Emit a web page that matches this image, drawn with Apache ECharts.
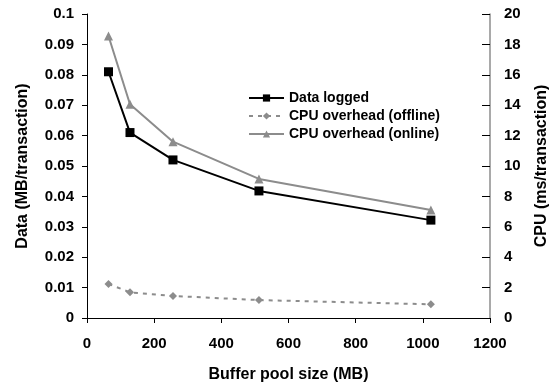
<!DOCTYPE html>
<html>
<head>
<meta charset="utf-8">
<script src="https://cdn.jsdelivr.net/npm/echarts@6/dist/echarts.min.js"></script>
<style>
  html, body { margin: 0; padding: 0; background: #fff; }
  #chart { width: 558px; height: 389px; }
</style>
</head>
<body>
<div id="chart"></div>
<script>
// buffer pool sizes (MB)
const poolSizes = [64, 128, 256, 512, 1024];
// MB/transaction (left axis)
const dataLogged = [0.081, 0.061, 0.052, 0.0418, 0.0322];
// ms/transaction (right axis)
const cpuOffline = [2.24, 1.69, 1.45, 1.18, 0.9];
const cpuOnline = [18.55, 14.06, 11.6, 9.15, 7.1];

const font = 'Liberation Sans';
const gray = '#8c8c8c';
const pairs = arr => poolSizes.map((x, i) => [x, arr[i]]);
const bold = size => ({ fontFamily: font, fontWeight: 'bold', fontSize: size, color: '#000' });

const chart = echarts.init(document.getElementById('chart'));
chart.setOption({
  animation: false,
  backgroundColor: '#fff',
  grid: { left: 87, right: 65, top: 14, bottom: 71 },
  legend: {
    orient: 'vertical',
    left: 243, top: 86,
    itemWidth: 35, itemHeight: 9, itemGap: 4,
    textStyle: bold(14),
    data: ['Data logged', 'CPU overhead (offline)', 'CPU overhead (online)']
  },
  xAxis: {
    type: 'value', min: 0, max: 1200, interval: 200,
    name: 'Buffer pool size (MB)', nameLocation: 'middle', nameGap: 49,
    nameTextStyle: bold(16),
    axisLine: { lineStyle: { color: '#000', width: 1 } },
    axisTick: { show: true, length: 5, lineStyle: { color: '#000' } },
    axisLabel: Object.assign(bold(15), { margin: 18, formatter: v => String(v) }),
    splitLine: { show: false }
  },
  yAxis: [{
    type: 'value', min: 0, max: 0.1, interval: 0.01,
    name: 'Data (MB/transaction)', nameLocation: 'middle', nameGap: 56, nameRotate: 90,
    nameTextStyle: bold(16),
    axisLine: { show: true, lineStyle: { color: '#000' } },
    axisTick: { show: true, length: 5, lineStyle: { color: '#000' } },
    axisLabel: Object.assign(bold(15), { margin: 13, formatter: v => String(+v.toFixed(2)) }),
    splitLine: { show: false }
  }, {
    type: 'value', min: 0, max: 20, interval: 2, position: 'right',
    name: 'CPU (ms/transaction)', nameLocation: 'middle', nameGap: 44, nameRotate: 90,
    nameTextStyle: bold(16),
    axisLine: { show: true, lineStyle: { color: gray, width: 1.5 } },
    axisTick: { show: true, inside: true, length: 8, lineStyle: { color: '#000' } },
    axisLabel: Object.assign(bold(15), { margin: 14 }),
    splitLine: { show: false }
  }],
  series: [{
    name: 'Data logged', type: 'line', yAxisIndex: 0,
    data: pairs(dataLogged),
    symbol: 'rect', symbolSize: 9,
    lineStyle: { color: '#000', width: 2 },
    itemStyle: { color: '#000' }
  }, {
    name: 'CPU overhead (offline)', type: 'line', yAxisIndex: 1,
    data: pairs(cpuOffline),
    symbol: 'diamond', symbolSize: 8,
    lineStyle: { color: gray, width: 2, type: [4, 5] },
    itemStyle: { color: gray }
  }, {
    name: 'CPU overhead (online)', type: 'line', yAxisIndex: 1,
    data: pairs(cpuOnline),
    symbol: 'triangle', symbolSize: 9,
    lineStyle: { color: gray, width: 2 },
    itemStyle: { color: gray }
  }]
});
</script>
</body>
</html>
